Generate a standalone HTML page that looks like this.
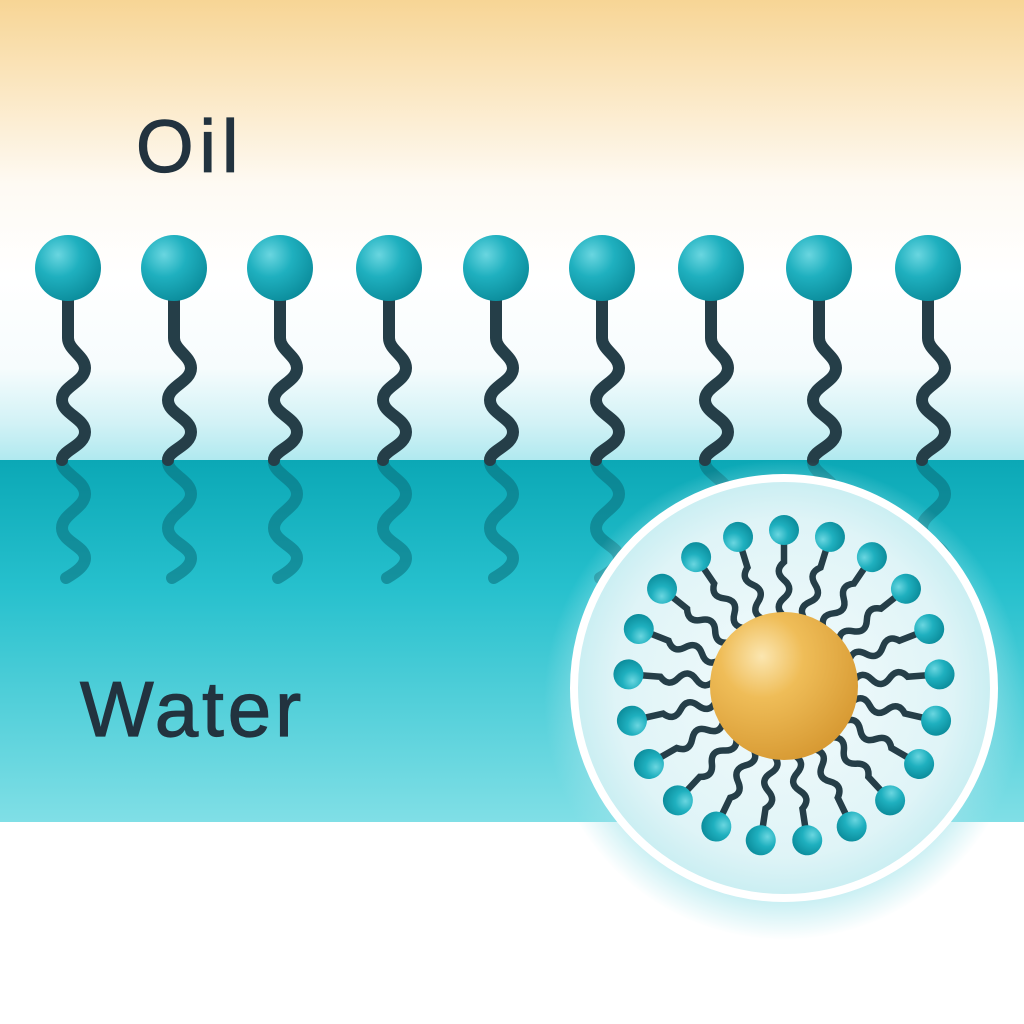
<!DOCTYPE html>
<html><head><meta charset="utf-8"><style>
html,body{margin:0;padding:0;width:1024px;height:1024px;overflow:hidden;background:#fff}
</style></head><body>
<svg width="1024" height="1024" viewBox="0 0 1024 1024" xmlns="http://www.w3.org/2000/svg">
<defs>
<linearGradient id="bg" x1="0" y1="0" x2="0" y2="1">
<stop offset="0" stop-color="#f7d595"/>
<stop offset="0.15" stop-color="#fae3b8"/>
<stop offset="0.4" stop-color="#fefaf3"/>
<stop offset="0.6" stop-color="#ffffff"/>
<stop offset="0.8" stop-color="#f6fcfd"/>
<stop offset="0.92" stop-color="#d2f2f6"/>
<stop offset="1" stop-color="#b0e9ef"/>
</linearGradient>
<linearGradient id="water" x1="0" y1="0" x2="0" y2="1">
<stop offset="0" stop-color="#0ba8b6"/>
<stop offset="0.35" stop-color="#26c0cd"/>
<stop offset="1" stop-color="#80dfe6"/>
</linearGradient>
<radialGradient id="head" cx="0.35" cy="0.3" r="0.75">
<stop offset="0" stop-color="#6ad6e0"/>
<stop offset="0.45" stop-color="#1fb0bf"/>
<stop offset="1" stop-color="#0b8c9b"/>
</radialGradient>
<radialGradient id="core" cx="0.35" cy="0.3" r="0.8">
<stop offset="0" stop-color="#fbe6b0"/>
<stop offset="0.35" stop-color="#efbd58"/>
<stop offset="1" stop-color="#d4952e"/>
</radialGradient>
<radialGradient id="mic" cx="0.5" cy="0.5" r="0.5">
<stop offset="0" stop-color="#f4fbfc"/>
<stop offset="0.8" stop-color="#dff4f7"/>
<stop offset="1" stop-color="#c9eef2"/>
</radialGradient>
<radialGradient id="glow" cx="0.5" cy="0.5" r="0.5">
<stop offset="0.8" stop-color="#9fe3ea" stop-opacity="0.7"/>
<stop offset="1" stop-color="#9fe3ea" stop-opacity="0"/>
</radialGradient>
<path id="tail" d="M0,30 L0,70 C0,82 17,88 17,100 C17,114 -6,118 -6,132 C-6,146 17,150 17,164 C17,178 -6,182 -6,192" fill="none" stroke="#253e48" stroke-width="12" stroke-linecap="round"/>
<path id="refl" d="M-6,194 C-6,206 17,212 17,226 C17,240 -6,246 -6,260 C-6,274 17,278 17,290 C17,298 8,304 -2,310" fill="none" stroke="#0a6b78" stroke-opacity="0.55" stroke-width="12" stroke-linecap="round"/>
<g id="s">
<use href="#refl"/>
<use href="#tail"/>
<circle cx="0" cy="0" r="33" fill="url(#head)"/>
</g>
<g id="m">
<path d="M70,0 C76,-7 82,-7 88,0 C94,7 100,7 106,0 C112,-7 118,-7 124,0 L142,0" fill="none" stroke="#253e48" stroke-width="6.5" stroke-linecap="round"/>
<circle cx="156" cy="0" r="15" fill="url(#head)"/>
</g>
</defs>
<rect width="1024" height="460" fill="url(#bg)"/>
<rect y="460" width="1024" height="362" fill="url(#water)"/>
<rect y="822" width="1024" height="202" fill="#fff"/>
<text x="136" y="172" font-family="Liberation Sans, sans-serif" font-size="74" letter-spacing="6" fill="#22333f" stroke="#22333f" stroke-width="1.2">Oil</text>
<text x="80" y="736" font-family="Liberation Sans, sans-serif" font-size="78" letter-spacing="4" fill="#22333f" stroke="#22333f" stroke-width="1.2">Water</text>
<g transform="translate(0,268)">
<use href="#s" x="68"/><use href="#s" x="174"/><use href="#s" x="280"/><use href="#s" x="389"/><use href="#s" x="496"/><use href="#s" x="602"/><use href="#s" x="711"/><use href="#s" x="819"/><use href="#s" x="928"/>
</g>
<circle cx="784" cy="700" r="240" fill="url(#glow)"/>
<circle cx="784" cy="688" r="210" fill="url(#mic)" stroke="#ffffff" stroke-width="8"/>
<g transform="translate(784,686)">
<use href="#m" transform="rotate(-90)"/><use href="#m" transform="rotate(-72.86)"/><use href="#m" transform="rotate(-55.71)"/><use href="#m" transform="rotate(-38.57)"/><use href="#m" transform="rotate(-21.43)"/><use href="#m" transform="rotate(-4.29)"/><use href="#m" transform="rotate(12.86)"/><use href="#m" transform="rotate(30)"/><use href="#m" transform="rotate(47.14)"/><use href="#m" transform="rotate(64.29)"/><use href="#m" transform="rotate(81.43)"/><use href="#m" transform="rotate(98.57)"/><use href="#m" transform="rotate(115.71)"/><use href="#m" transform="rotate(132.86)"/><use href="#m" transform="rotate(150)"/><use href="#m" transform="rotate(167.14)"/><use href="#m" transform="rotate(184.29)"/><use href="#m" transform="rotate(201.43)"/><use href="#m" transform="rotate(218.57)"/><use href="#m" transform="rotate(235.71)"/><use href="#m" transform="rotate(252.86)"/>
<circle cx="0" cy="0" r="74" fill="url(#core)"/>
</g>
</svg>
</body></html>
